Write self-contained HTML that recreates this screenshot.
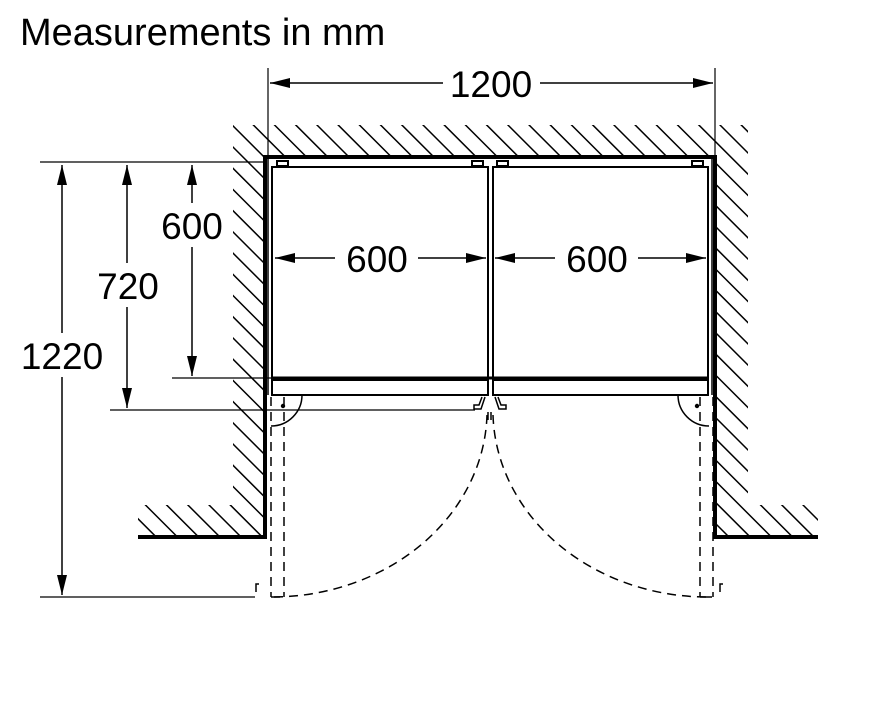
<!DOCTYPE html>
<html><head><style>body{margin:0;background:#fff}svg{display:block}</style></head><body>
<svg width="872" height="714" viewBox="0 0 872 714" xmlns="http://www.w3.org/2000/svg" font-family="Liberation Sans, sans-serif">
<defs>
<pattern id="h" patternUnits="userSpaceOnUse" width="15" height="15" patternTransform="rotate(-45)">
<line x1="0" y1="0" x2="0" y2="15" stroke="#000" stroke-width="3"/>
</pattern>
<marker id="a" viewBox="0 0 20 10" refX="20" refY="5" markerWidth="20" markerHeight="10" markerUnits="userSpaceOnUse" orient="auto-start-reverse"><path d="M0,0L20,5L0,10z"/></marker>
</defs>
<text x="20" y="45" font-size="38">Measurements in mm</text>
<path d="M233,125H748V505H818V537H715V157H265V537H138V505H233Z" fill="url(#h)"/>
<path d="M138,537H265V157H715V537H818" fill="none" stroke="#000" stroke-width="4"/>
<g fill="none" stroke="#000" stroke-width="2">
<rect x="272" y="167" width="216" height="211"/>
<rect x="493" y="167" width="215" height="211"/>
<rect x="272" y="380" width="216" height="15"/>
<rect x="493" y="380" width="215" height="15"/>
<rect x="277" y="161" width="11" height="5"/>
<rect x="472" y="161" width="11" height="5"/>
<rect x="497" y="161" width="11" height="5"/>
<rect x="692" y="161" width="11" height="5"/>
<path d="M268,159V395M712,159V395" stroke-width="1.5"/>
<path d="M482,397l-3,8h-5v4h7l4,-12M498,397l3,8h5v4h-7l-4,-12" stroke-width="1.5"/>
</g>
<line x1="272" y1="378" x2="708" y2="378" stroke="#000" stroke-width="3"/>
<g fill="none" stroke="#000" stroke-width="1.5" stroke-dasharray="9,6">
<path d="M271,397V597M284,397V597M700,397V597M713,397V597"/>
<path d="M487,415A215,187 0 0 1 272,597"/>
<path d="M493,415A215,187 0 0 0 712,597"/>
<path d="M488,412V420M491,412V420"/>
</g>
<g fill="none" stroke="#000" stroke-width="1.5">
<path d="M302,395A31,31 0 0 1 271,426"/>
<path d="M678,395A31,31 0 0 0 709,426"/>
<path d="M271,597H280M700,597H712"/>
<path d="M256,592v-8h3M720,592v-8h3"/>
</g>
<circle cx="283" cy="406" r="2.2"/><circle cx="697" cy="406" r="2.2"/>
<g stroke="#000" stroke-width="1.2">
<path d="M268,68V157M715,68V157"/>
<path d="M40,162H265M172,378H272M110,410H475M40,597H255"/>
</g>
<g stroke="#000" stroke-width="1.5" fill="none">
<path d="M443,83H270" marker-end="url(#a)"/><path d="M540,83H713" marker-end="url(#a)"/>
<path d="M335,258H275" marker-end="url(#a)"/><path d="M418,258H486" marker-end="url(#a)"/>
<path d="M555,258H495" marker-end="url(#a)"/><path d="M638,258H706" marker-end="url(#a)"/>
<path d="M192,203V165" marker-end="url(#a)"/><path d="M192,247V376" marker-end="url(#a)"/>
<path d="M127,263V165" marker-end="url(#a)"/><path d="M127,307V408" marker-end="url(#a)"/>
<path d="M62,333V165" marker-end="url(#a)"/><path d="M62,377V595" marker-end="url(#a)"/>
</g>
<g font-size="37" text-anchor="middle">
<text x="491" y="97">1200</text>
<text x="377" y="272">600</text>
<text x="597" y="272">600</text>
<text x="192" y="239">600</text>
<text x="128" y="299">720</text>
<text x="62" y="369">1220</text>
</g>
</svg>
</body></html>
